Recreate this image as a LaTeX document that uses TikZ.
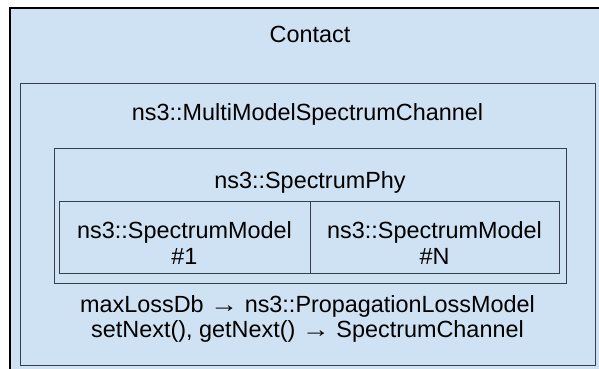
\documentclass[tikz,border=0pt]{standalone}
\usepackage{fontspec}
\setmainfont{Liberation Sans}
\newcommand{\longto}{\scalebox{1.2}[1]{→}}
\begin{document}
\begin{tikzpicture}[x=1pt,y=-1pt,
  panel/.style={draw=boxline,fill=panelfill,line width=1.4pt,rectangle,inner sep=0pt,anchor=north west},
  caption/.style={font=\fontsize{23.4}{26}\selectfont,text=black,inner sep=0pt,anchor=base,align=center}]
\definecolor{panelfill}{HTML}{CFE2F3}
\definecolor{boxline}{HTML}{36404C}
\useasboundingbox (0,0) rectangle (599,369);
\clip (0,0) rectangle (599,369);
% outer container, running past the right and bottom edges
\node[panel,draw=black,line width=1.7pt,minimum width=602pt,minimum height=380pt] (contact) at (9,7) {};
% channel box
\node[panel,minimum width=575pt,minimum height=282pt] (mmsc) at (20,83) {};
% phy box
\node[panel,minimum width=512pt,minimum height=135pt] (phy) at (54,148) {};
% two spectrum model cells
\node[panel,minimum width=251pt,minimum height=72pt] (model1) at (59,201) {};
\node[panel,minimum width=249pt,minimum height=72pt] (modelN) at (310,201) {};
% texts
\node[caption] (tcontact) at (310,42) {Contact};
\node[caption] (tmmsc) at (307.5,120) {ns3::MultiModelSpectrumChannel};
\node[caption] (tphy) at (310,188) {ns3::SpectrumPhy};
\node[caption] (tm1a) at (184.5,238) {ns3::SpectrumModel};
\node[caption] (tm1b) at (184.5,264) {\#1};
\node[caption] (tmNa) at (434.5,238) {ns3::SpectrumModel};
\node[caption] (tmNb) at (434.5,264) {\#N};
\node[caption] (tloss) at (307.5,312) {maxLossDb \longto{} ns3::PropagationLossModel};
\node[caption] (tnext) at (307.5,337) {setNext(), getNext() \longto{} SpectrumChannel};
\end{tikzpicture}
\end{document}
